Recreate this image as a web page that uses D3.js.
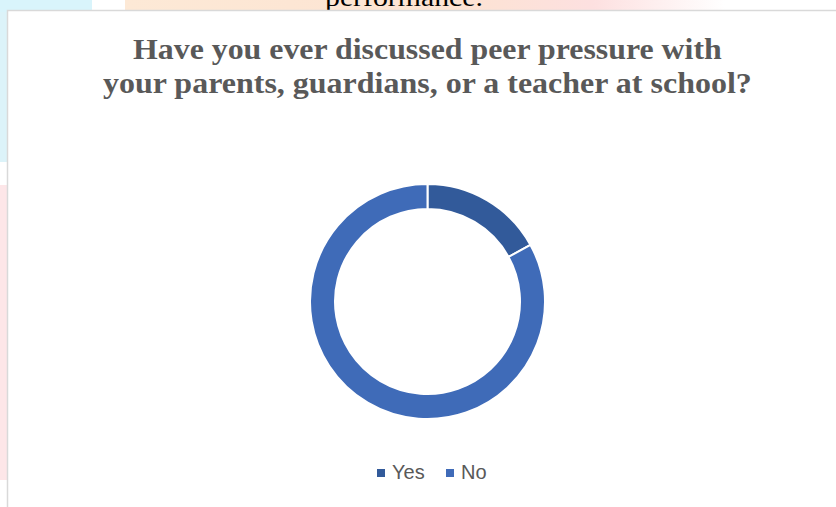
<!DOCTYPE html>
<html>
<head>
<meta charset="utf-8">
<script src="https://cdn.jsdelivr.net/npm/d3@7"></script>
<style>
  html, body { margin: 0; padding: 0; background: #fff; }
  svg { display: block; }
</style>
</head>
<body>
<svg id="chart" width="836" height="507"></svg>
<script>
// Survey answers
const categories = ["Yes", "No"];
const values = [17, 83];
const colors = ["#325A9A", "#3F6BB8"];
const titleLines = [
  "Have you ever discussed peer pressure with",
  "your parents, guardians, or a teacher at school?"
];

const svg = d3.select("#chart");
const W = 836, H = 507;

// Stretch a text horizontally so it spans a given width, starting at x
function fitWidth(sel, x, width) {
  const natural = sel.node().getComputedTextLength();
  const sx = width / natural;
  sel.attr("x", 0).attr("transform", `translate(${x},0) scale(${sx},1)`);
}

// Page behind the chart frame: faint page decorations and the tail of the previous paragraph
const bg = svg.append("g");
const defs = svg.append("defs");
const g1 = defs.append("linearGradient").attr("id", "warm").attr("x1", 0).attr("x2", 1);
g1.append("stop").attr("offset", "0").attr("stop-color", "#fde9d6");
g1.append("stop").attr("offset", "0.55").attr("stop-color", "#fde3d2");
g1.append("stop").attr("offset", "0.78").attr("stop-color", "#fde0e0");
g1.append("stop").attr("offset", "1").attr("stop-color", "#ffffff");
bg.append("rect").attr("x", 0).attr("y", 0).attr("width", 92).attr("height", 12).attr("fill", "#d9f4fb");
bg.append("rect").attr("x", 125).attr("y", 0).attr("width", 600).attr("height", 12).attr("fill", "url(#warm)");
bg.append("rect").attr("x", 0).attr("y", 12).attr("width", 7).attr("height", 150).attr("fill", "#dcf3f9");
bg.append("rect").attr("x", 0).attr("y", 185).attr("width", 7).attr("height", 295).attr("fill", "#fde6e8");
const prev = bg.append("text")
  .attr("y", 6)
  .attr("font-family", "Liberation Serif, Times New Roman, serif")
  .attr("font-size", 26)
  .attr("fill", "#000")
  .text("performance.");
fitWidth(prev, 325, 158);

// Chart frame
svg.append("rect")
  .attr("x", 7.5).attr("y", 10.5)
  .attr("width", W).attr("height", H)
  .attr("fill", "#fff")
  .attr("stroke", "#d9d9d9")
  .attr("stroke-width", 1.5);

// Title, set wide like the original heading
const titleSpans = [
  { x: 133, width: 589 },
  { x: 103, width: 649 }
];
const title = svg.append("g")
  .attr("font-family", "Liberation Serif, Times New Roman, serif")
  .attr("font-weight", "bold")
  .attr("font-size", 30)
  .attr("fill", "#595959");
titleLines.forEach((t, i) => {
  const line = title.append("text")
    .attr("y", 59 + i * 34)
    .text(t);
  fitWidth(line, titleSpans[i].x, titleSpans[i].width);
});

// Donut
const cx = 427.5, cy = 301.5, outerR = 117.5, innerR = 92.5;
const pie = d3.pie().sort(null).value(d => d.value);
const arc = d3.arc().innerRadius(innerR).outerRadius(outerR);
const data = categories.map((c, i) => ({ name: c, value: values[i] }));
const color = d3.scaleOrdinal().domain(categories).range(colors);

svg.append("g")
  .attr("transform", `translate(${cx},${cy})`)
  .selectAll("path")
  .data(pie(data))
  .join("path")
  .attr("d", arc)
  .attr("fill", d => color(d.data.name))
  .attr("stroke", "#fff")
  .attr("stroke-width", 2);

// Legend
const legend = svg.append("g").attr("font-family", "Liberation Sans, Arial, sans-serif");
const legendX = [377, 446];
categories.forEach((c, i) => {
  const item = legend.append("g").attr("transform", `translate(${legendX[i]},0)`);
  item.append("rect").attr("x", 0).attr("y", 469).attr("width", 8).attr("height", 8).attr("fill", color(c));
  item.append("text").attr("x", 15).attr("y", 479)
    .attr("font-size", 20).attr("fill", "#595959").text(c);
});
</script>
</body>
</html>
